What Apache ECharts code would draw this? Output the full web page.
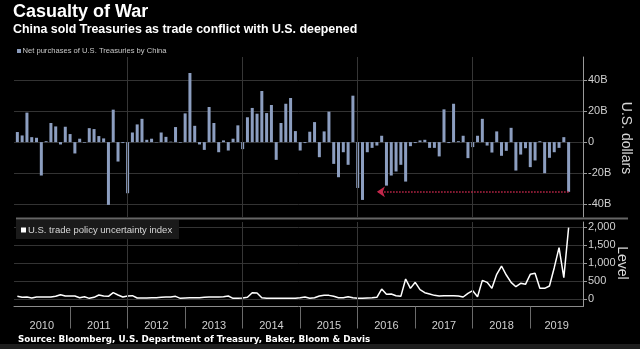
<!DOCTYPE html>
<html><head><meta charset="utf-8">
<script src="https://cdn.jsdelivr.net/npm/echarts@6/dist/echarts.min.js"></script>
<style>html,body{margin:0;padding:0;background:#000;}#c{width:640px;height:349px;}</style>
</head><body><div id="c"></div>
<script>
// Monthly data, Jan 2010 .. Aug 2019 (plotted at month end)
const purchases = [
  6.5, 4.3, 19, 3.2, 2.8, -21.5, 0.6, 12.3, 10.1, -1.5, 9.9, 5.2,
  -7.3, 2.2, -0.4, 9, 8.4, 3.9, 2.4, -40.4, 20.9, -12.5, -0.6, -32.9,
  6.2, 11.4, 15, 1.5, 2.2, -0.2, 6.2, 3.4, 0.3, 9.7, -0.4, 18.5,
  44.5, 10.5, -1.5, -5, 22.6, 12.3, -6.5, 1.1, -5.4, 2.2, 10.8, -4.5,
  16, 22, 18.3, 32.9, 18.7, 23.9, -11.4, 12.3, 24.7, 28.4, 7.1, -5.4,
  -0.6, 6.7, 12.9, -9.7, 6.9, 19.6, -14, -22.6, -6.5, -14.6, 29.9, -29.5,
  -37.2, -6.5, -3.7, -2.2, 4.1, -28, -21.5, -18.9, -14.6, -25.4, -2.6, -0.6,
  1.1, 1.5, -3.7, -3.7, -9.2, 21.1, -0.6, 24.7, 0.6, 4.1, -10.3, -3.2,
  4.1, 15, -2.2, -6.7, 6.9, -8.8, -5.6, 9.2, -18.3, -8, -3.9, -16.1,
  -11.8, 0.6, -20, -10.1, -6.5, -3.7, 3.2, -32
];
const tpu = [
  75, 47, 56, 28, 56, 56, 56, 56, 75, 121, 84, 84,
  84, 37, 65, 19, 47, 112, 84, 75, 177, 112, 56, 84,
  93, 28, 28, 28, 37, 37, 47, 56, 56, 75, 19, 28,
  37, 37, 37, 47, 56, 56, 56, 65, 84, 19, 19, 28,
  47, 177, 168, 37, 19, 19, 19, 19, 19, 19, 19, 37,
  56, 19, 37, 84, 102, 102, 75, 37, 37, 65, 37, 19,
  19, 28, 37, 47, 279, 130, 140, 93, 75, 559, 298, 466,
  261, 177, 140, 102, 84, 93, 93, 93, 84, 56, 158, 233,
  65, 521, 466, 298, 689, 922, 670, 466, 344, 438, 410, 689,
  717, 298, 298, 363, 875, 1434, 596, 1992
];
// x position: months since start of 2010 (month-end => index+1)
const months = purchases.map((_, i) => i + 1);
const years = ['2010','2011','2012','2013','2014','2015','2016','2017','2018','2019'];
const usdTicks = [-40, -20, 0, 20, 40];
const levelTicks = [0, 500, 1000, 1500, 2000];
const yearStarts = [12, 24, 36, 48, 60, 72, 84, 96, 108];
const gridYears = [24, 48, 72, 96];
const yearLabelPos = [6.1, 18, 30, 42, 54, 66, 78, 90, 102, 113.5];

const FONT = 'Liberation Sans, Arial, sans-serif';
const chart = echarts.init(document.getElementById('c'), null, {renderer: 'canvas'});

const vLines = gridYears.map(x => ({xAxis: x, lineStyle: {color: '#363636', type: 'solid', width: 1}}));

const option = {
  backgroundColor: '#000',
  animation: false,
  grid: [
    {left: 14, right: 57, top: 57, height: 160},
    {left: 14, right: 57, top: 222, height: 84.5}
  ],
  xAxis: [
    {gridIndex: 0, type: 'value', min: 0.3, max: 119, show: false},
    {gridIndex: 1, type: 'value', min: 0.3, max: 119,
      axisLine: {show: true, onZero: false, lineStyle: {color: '#8a8a8a', width: 1}},
      axisTick: {show: true, customValues: yearStarts, length: 22, lineStyle: {color: '#6a6a6a'}},
      axisLabel: {customValues: yearLabelPos, formatter: v => years[Math.floor(v / 12)],
        color: '#d0d0d0', fontSize: 11, margin: 14, fontFamily: FONT},
      splitLine: {show: false}}
  ],
  yAxis: [
    {gridIndex: 0, type: 'value', position: 'right', min: -48.2, max: 54.8,
      axisLine: {show: true, lineStyle: {color: '#9a9a9a'}},
      axisTick: {show: true, customValues: usdTicks, length: 4, lineStyle: {color: '#9a9a9a'}},
      axisLabel: {customValues: usdTicks, formatter: v => v === 0 ? '0' : v + 'B',
        color: '#d0d0d0', fontSize: 11, margin: 5, fontFamily: FONT},
      splitLine: {show: true, lineStyle: {color: '#333'}}},
    {gridIndex: 1, type: 'value', position: 'right', min: -209, max: 2151,
      axisLine: {show: true, lineStyle: {color: '#9a9a9a'}},
      axisTick: {show: true, customValues: levelTicks, length: 4, lineStyle: {color: '#9a9a9a'}},
      axisLabel: {customValues: levelTicks, color: '#d0d0d0', fontSize: 11, margin: 5, fontFamily: FONT},
      splitLine: {show: true, lineStyle: {color: '#333'}}}
  ],
  series: [
    {type: 'bar', xAxisIndex: 0, yAxisIndex: 0, barWidth: 3,
      data: purchases.map((v, i) => [months[i], v]),
      itemStyle: {color: '#8c9ec0'},
      markLine: {silent: true, symbol: ['none', 'none'], label: {show: false}, animation: false,
        data: vLines.concat([[
          {coord: [months[months.length - 1], purchases[purchases.length - 1]], symbol: 'none',
            lineStyle: {color: '#c3274b', type: 'dotted', width: 1.5}},
          {coord: [76, purchases[purchases.length - 1]], symbol: 'arrow', symbolSize: 8}
        ]])}},
    {type: 'line', xAxisIndex: 1, yAxisIndex: 1, showSymbol: false,
      data: tpu.map((v, i) => [months[i], v]),
      lineStyle: {color: '#ffffff', width: 1.5},
      markLine: {silent: true, symbol: ['none', 'none'], label: {show: false}, animation: false, data: vLines}}
  ],
  graphic: [
    {type: 'text', x: 13, y: 12, style: {text: 'Casualty of War', fill: '#fff', font: 'bold 18px ' + FONT, textVerticalAlign: 'middle'}},
    {type: 'text', x: 13, y: 29.7, style: {text: 'China sold Treasuries as trade conflict with U.S. deepened', fill: '#fff', font: 'bold 12.4px ' + FONT, textVerticalAlign: 'middle'}},
    {type: 'rect', shape: {x: 17, y: 49, width: 4, height: 4}, style: {fill: '#8a9bbb'}},
    {type: 'text', x: 22.5, y: 51, style: {text: 'Net purchases of U.S. Treasuries by China', fill: '#c8c8c8', font: '7.6px ' + FONT, textVerticalAlign: 'middle'}},
    {type: 'rect', shape: {x: 16, y: 217.5, width: 612, height: 2}, style: {fill: '#666'}, z: 10},
    {type: 'rect', shape: {x: 16, y: 220, width: 163, height: 19}, style: {fill: '#1a1a1a'}, z: 10},
    {type: 'rect', shape: {x: 21, y: 227.5, width: 5, height: 5}, style: {fill: '#fff'}, z: 11},
    {type: 'text', x: 28, y: 230, z: 11, style: {text: 'U.S. trade policy uncertainty index', fill: '#d8d8d8', font: '9.5px ' + FONT, textVerticalAlign: 'middle'}},
    {type: 'text', x: 626, y: 138, rotation: -Math.PI / 2, style: {text: 'U.S. dollars', fill: '#d8d8d8', font: '14px ' + FONT, textAlign: 'center', textVerticalAlign: 'middle'}},
    {type: 'text', x: 622, y: 263, rotation: -Math.PI / 2, style: {text: 'Level', fill: '#d8d8d8', font: '14px ' + FONT, textAlign: 'center', textVerticalAlign: 'middle'}},
    {type: 'text', x: 18, y: 340, style: {text: 'Source: Bloomberg, U.S. Department of Treasury, Baker, Bloom & Davis', fill: '#fff', font: 'bold 8.75px DejaVu Sans, sans-serif', textVerticalAlign: 'middle'}},
    {type: 'rect', shape: {x: 0, y: 344, width: 640, height: 5}, style: {fill: '#1e1e1e'}}
  ]
};
chart.setOption(option);
</script>
</body></html>
